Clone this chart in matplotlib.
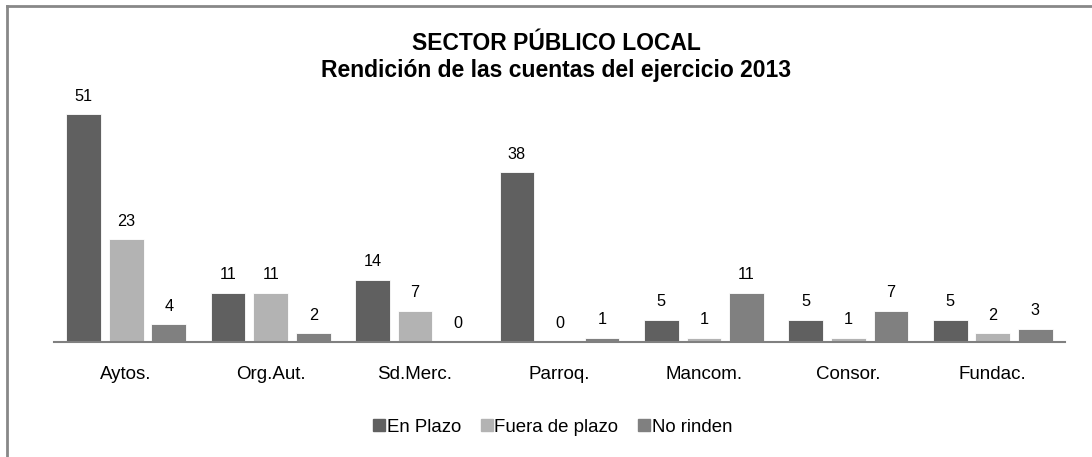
import numpy as np
import matplotlib; matplotlib.use("Agg"); import matplotlib.pyplot as plt
from matplotlib.lines import Line2D

plt.rcParams["font.family"] = ["Liberation Sans", "DejaVu Sans"]

CATS = ["Aytos.", "Org.Aut.", "Sd.Merc.", "Parroq.", "Mancom.", "Consor.", "Fundac."]
SERIES = ["En Plazo", "Fuera de plazo", "No rinden"]
EN_PLAZO = [51, 11, 14, 38, 5, 5, 5]
FUERA = [23, 11, 7, 0, 1, 1, 2]
NO_RINDEN = [4, 2, 0, 1, 11, 7, 3]
COLORS = ["#606060", "#b3b3b3", "#808080"]

W, H = 1092, 457
fig = plt.figure(figsize=(W / 100, H / 100), dpi=100)
# axes placed in pixel terms: x 54..1065, baseline at y=342
ax = fig.add_axes([54 / W, (H - 342) / H, (1065 - 54) / W, (342 - 92) / H])

x = np.arange(len(CATS))
off = 0.295; bw = 0.24
for i, (vals, col, name) in enumerate(zip([EN_PLAZO, FUERA, NO_RINDEN], COLORS, SERIES)):
    xs = x + (i - 1) * off
    ax.bar(xs, vals, width=bw, color=col, edgecolor="white", linewidth=0.6, label=name)
    for xi, v in zip(xs, vals):
        ax.annotate(f"{v}", (xi, v), xytext=(0, 13), textcoords="offset points",
                    ha="center", va="center", fontsize=11.7, color="black")

ax.set_xlim(-0.5, len(CATS) - 0.5)
ax.set_ylim(0, 56)
ax.set_yticks([])
ax.set_xticks(x)
ax.set_xticklabels(CATS, fontsize=13.5)
ax.tick_params(axis="x", length=0, pad=17)
for s in ["top", "right", "left"]:
    ax.spines[s].set_visible(False)
ax.spines["bottom"].set_color("#808080"); ax.spines["bottom"].set_linewidth(1.5)

fig.text(556 / W, 1 - 43 / H, "SECTOR PÚBLICO LOCAL", ha="center", va="center",
         fontsize=16.5, fontweight="bold")
fig.text(556 / W, 1 - 71 / H, "Rendición de las cuentas del ejercicio 2013", ha="center",
         va="center", fontsize=16.5, fontweight="bold")

handles = [Line2D([], [], marker="s", linestyle="none", markersize=8, color=c) for c in COLORS]
fig.legend(handles, SERIES, loc="center", bbox_to_anchor=(552 / W, 1 - 427 / H), ncol=3,
           frameon=False, fontsize=13.4, handletextpad=0.0, columnspacing=1.0, handlelength=0.8)

# outer frame (top and left edges only visible in the crop)
fig.add_artist(Line2D([7 / W, 1], [1 - 6 / H, 1 - 6 / H], color="#888888", lw=2))
fig.add_artist(Line2D([7 / W, 7 / W], [0, 1 - 6 / H], color="#888888", lw=2))

fig.savefig("out.png", dpi=100)
